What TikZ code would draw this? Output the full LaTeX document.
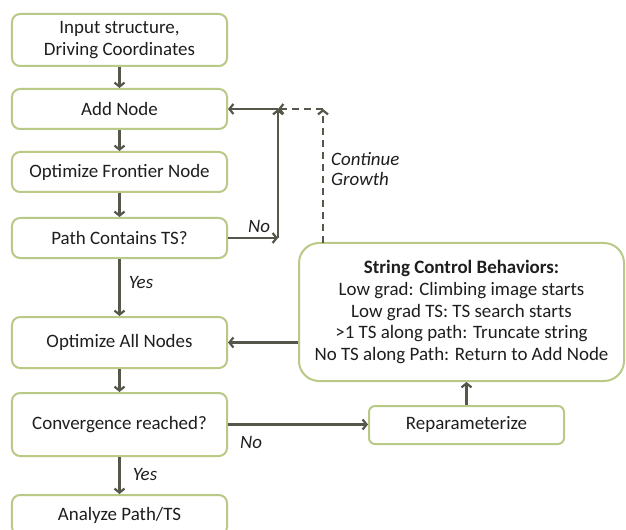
\documentclass[tikz,border=0pt]{standalone}
\usepackage{fontspec}
\setmainfont{Carlito}
\usetikzlibrary{arrows.meta}
\definecolor{boxgreen}{HTML}{B8CA86}
\definecolor{arrowgray}{HTML}{55574A}
\definecolor{txt}{HTML}{1E1E1E}
\tikzset{
  flowbox/.style={draw=boxgreen, line width=2bp, rounded corners=8bp, fill=white,
    align=center, text=txt, inner sep=0pt, font=\fontsize{19}{22}\selectfont},
  conn/.style={draw=arrowgray, line width=2.2bp, -{Straight Barb[length=4bp,width=10bp]}},
  dconn/.style={conn, dash pattern=on 7bp off 5bp},
  lbl/.style={text=txt, font=\fontsize{19}{21}\selectfont\itshape, inner sep=0pt}
}
\begin{document}
\begin{tikzpicture}[x=1bp,y=-1bp]
\useasboundingbox (0,0) rectangle (626,530);
\clip (0,0) rectangle (626,530);
\node[flowbox, minimum width=215bp, minimum height=52bp] (inp) at (119.5,40) {Input structure,\\Driving Coordinates};
\node[flowbox, minimum width=215bp, minimum height=40bp] (add) at (119.5,109) {Add Node};
\node[flowbox, minimum width=215bp, minimum height=40bp] (ofn) at (119.5,172) {Optimize Frontier Node};
\node[flowbox, minimum width=215bp, minimum height=40bp] (pct) at (119.5,238) {Path Contains TS?};
\node[flowbox, minimum width=215bp, minimum height=51bp] (oan) at (119.5,342.5) {Optimize All Nodes};
\node[flowbox, minimum width=215bp, minimum height=63bp] (conv) at (119.5,424.5) {Convergence reached?};
\node[flowbox, minimum width=215bp, minimum height=40bp] (ana) at (119.5,515) {Analyze Path/TS};
\node[flowbox, rounded corners=20bp, minimum width=325bp, minimum height=138bp] (str) at (461.5,312)
  {\textbf{String Control Behaviors:}\\Low grad: Climbing image starts\\Low grad TS: TS search starts\\>1 TS along path: Truncate string\\No TS along Path: Return to Add Node};
\node[flowbox, rounded corners=6bp, minimum width=195bp, minimum height=38bp] (rep) at (466.5,425) {Reparameterize};

\coordinate (c1) at (278,238);
\coordinate (c2) at (278,109);
\coordinate (c3) at (323,109);
\coordinate (c4) at (323,243);

\draw[conn] (inp) -- (add);
\draw[conn] (add) -- (ofn);
\draw[conn] (ofn) -- (pct);
\draw[conn] (pct) -- (oan);
\draw[conn] (oan) -- (conv);
\draw[conn] (conv) -- (ana);
\draw[conn] (pct.east) -- (c1);
\draw[conn] (c1) -- (c2);
\draw[conn] (c2) -- (add.east);
\draw[dconn] (c4) -- (c3);
\draw[dconn] (c3) -- (c2);
\draw[conn] (oan.east -| str.west) -- (oan.east);
\draw[conn] (conv.east) -- (conv.east -| rep.west);
\draw[conn] (rep.north) -- (rep.north |- str.south);

\node[lbl] (no1) at (259,226) {No};
\node[lbl] (yes1) at (141,282) {Yes};
\node[lbl] (no2) at (251,442) {No};
\node[lbl] (yes2) at (145,474) {Yes};
\node[lbl, align=left, anchor=west] (cg) at (331,169) {Continue\\Growth};
\end{tikzpicture}
\end{document}
